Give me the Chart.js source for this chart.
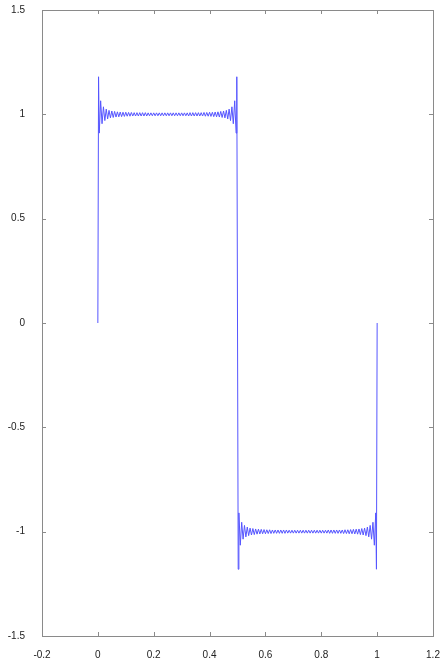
<!DOCTYPE html>
<html lang="en">
<head>
<meta charset="UTF-8">
<title>Square wave partial sum</title>
<style>
    html, body { margin: 0; padding: 0; background: #fff; }
    #wrap { width: 440px; height: 659px; }
</style>
</head>
<body>
<div id="wrap"><canvas id="chart" width="440" height="659"></canvas></div>
<script src="https://cdn.jsdelivr.net/npm/chart.js@4"></script>
<script>
// axis ticks
const xTicks = [-0.2, 0, 0.2, 0.4, 0.6, 0.8, 1, 1.2];
const xTickLabels = ['-0.2', '0', '0.2', '0.4', '0.6', '0.8', '1', '1.2'];
const yTicks = [-1.5, -1, -0.5, 0, 0.5, 1, 1.5];
const yTickLabels = ['-1.5', '-1', '-0.5', '0', '0.5', '1', '1.5'];

// upper plateau (0 .. 0.5)
const upperX = [0, 0.0025,
    0.005,0.01,0.015,0.02,0.025,0.03,0.035,0.04,0.045,0.05,
    0.055,0.06,0.065,0.07,0.075,0.08,0.085,0.09,0.095,0.1,
    0.105,0.11,0.115,0.12,0.125,0.13,0.135,0.14,0.145,0.15,
    0.155,0.16,0.165,0.17,0.175,0.18,0.185,0.19,0.195,0.2,
    0.205,0.21,0.215,0.22,0.225,0.23,0.235,0.24,0.245,0.25,
    0.255,0.26,0.265,0.27,0.275,0.28,0.285,0.29,0.295,0.3,
    0.305,0.31,0.315,0.32,0.325,0.33,0.335,0.34,0.345,0.35,
    0.355,0.36,0.365,0.37,0.375,0.38,0.385,0.39,0.395,0.4,
    0.405,0.41,0.415,0.42,0.425,0.43,0.435,0.44,0.445,0.45,
    0.455,0.46,0.465,0.47,0.475,0.48,0.485,0.49,0.495,
    0.4975, 0.5];
const upperY = [0, 1.18,
    0.910,1.065,0.955,1.036,0.970,1.025,0.978,1.019,0.983,1.016,
    0.985,1.014,0.987,1.012,0.988,1.011,0.989,1.010,0.990,1.010,
    0.991,1.009,0.991,1.009,0.992,1.008,0.992,1.008,0.992,1.008,
    0.992,1.008,0.992,1.008,0.992,1.007,0.993,1.007,0.993,1.007,
    0.993,1.007,0.993,1.007,0.993,1.007,0.993,1.007,0.993,1.007,
    0.993,1.007,0.993,1.007,0.993,1.007,0.993,1.007,0.993,1.007,
    0.993,1.007,0.993,1.007,0.992,1.008,0.992,1.008,0.992,1.008,
    0.992,1.008,0.992,1.008,0.992,1.009,0.991,1.009,0.991,1.010,
    0.990,1.010,0.989,1.011,0.988,1.012,0.987,1.014,0.985,1.016,
    0.983,1.019,0.978,1.025,0.970,1.036,0.955,1.065,0.910,
    1.18, 0];

// lower plateau (0.5 .. 1)
const lowerX = [0.5025,
    0.505,0.51,0.515,0.52,0.525,0.53,0.535,0.54,0.545,0.55,
    0.555,0.56,0.565,0.57,0.575,0.58,0.585,0.59,0.595,0.6,
    0.605,0.61,0.615,0.62,0.625,0.63,0.635,0.64,0.645,0.65,
    0.655,0.66,0.665,0.67,0.675,0.68,0.685,0.69,0.695,0.7,
    0.705,0.71,0.715,0.72,0.725,0.73,0.735,0.74,0.745,0.75,
    0.755,0.76,0.765,0.77,0.775,0.78,0.785,0.79,0.795,0.8,
    0.805,0.81,0.815,0.82,0.825,0.83,0.835,0.84,0.845,0.85,
    0.855,0.86,0.865,0.87,0.875,0.88,0.885,0.89,0.895,0.9,
    0.905,0.91,0.915,0.92,0.925,0.93,0.935,0.94,0.945,0.95,
    0.955,0.96,0.965,0.97,0.975,0.98,0.985,0.99,0.995,
    0.9975, 1];
const lowerY = [-1.18,
    -0.910,-1.065,-0.955,-1.036,-0.970,-1.025,-0.978,-1.019,-0.983,-1.016,
    -0.985,-1.014,-0.987,-1.012,-0.988,-1.011,-0.989,-1.010,-0.990,-1.010,
    -0.991,-1.009,-0.991,-1.009,-0.992,-1.008,-0.992,-1.008,-0.992,-1.008,
    -0.992,-1.008,-0.992,-1.008,-0.992,-1.007,-0.993,-1.007,-0.993,-1.007,
    -0.993,-1.007,-0.993,-1.007,-0.993,-1.007,-0.993,-1.007,-0.993,-1.007,
    -0.993,-1.007,-0.993,-1.007,-0.993,-1.007,-0.993,-1.007,-0.993,-1.007,
    -0.993,-1.007,-0.993,-1.007,-0.992,-1.008,-0.992,-1.008,-0.992,-1.008,
    -0.992,-1.008,-0.992,-1.008,-0.992,-1.009,-0.991,-1.009,-0.991,-1.010,
    -0.990,-1.010,-0.989,-1.011,-0.988,-1.012,-0.987,-1.014,-0.985,-1.016,
    -0.983,-1.019,-0.978,-1.025,-0.970,-1.036,-0.955,-1.065,-0.910,
    -1.18, 0];

const points = upperX.map((x, i) => ({ x: x, y: upperY[i] }))
    .concat(lowerX.map((x, i) => ({ x: x, y: lowerY[i] })));

// box round the plot + inward ticks on all four sides
const boxTicks = {
    id: 'boxTicks',
    afterDraw(chart) {
        const { ctx, chartArea: a, scales } = chart;
        const len = 4;
        ctx.save();
        ctx.strokeStyle = '#8a8a8a';
        ctx.lineWidth = 1;
        ctx.strokeRect(Math.round(a.left) + 0.5, Math.round(a.top) + 0.5,
            Math.round(a.right - a.left), Math.round(a.bottom - a.top));
        ctx.beginPath();
        xTicks.forEach(v => {
            const px = Math.round(scales.x.getPixelForValue(v)) + 0.5;
            ctx.moveTo(px, a.bottom); ctx.lineTo(px, a.bottom - len);
            ctx.moveTo(px, a.top); ctx.lineTo(px, a.top + len);
        });
        yTicks.forEach(v => {
            const py = Math.round(scales.y.getPixelForValue(v)) + 0.5;
            ctx.moveTo(a.left, py); ctx.lineTo(a.left + len, py);
            ctx.moveTo(a.right, py); ctx.lineTo(a.right - len, py);
        });
        ctx.stroke();
        ctx.restore();
    }
};

const tickFont = { family: "'Liberation Sans', Arial, sans-serif", size: 10 };

new Chart(document.getElementById('chart'), {
    type: 'line',
    data: {
        datasets: [{
            data: points,
            borderColor: 'rgb(85,85,255)',
            borderWidth: 1,
            pointRadius: 0,
            tension: 0,
            fill: false
        }]
    },
    options: {
        responsive: false,
        animation: false,
        layout: { padding: { top: 10, right: 7, left: 0, bottom: 0 } },
        plugins: { legend: { display: false }, tooltip: { enabled: false } },
        scales: {
            x: {
                type: 'linear',
                min: -0.2, max: 1.2,
                afterBuildTicks: s => { s.ticks = xTicks.map(v => ({ value: v })); },
                afterFit: s => { s.height = 23; s.paddingLeft = 0; s.paddingRight = 0; },
                grid: { display: false },
                border: { display: false },
                ticks: {
                    padding: 5,
                    color: '#222',
                    font: tickFont,
                    maxRotation: 0,
                    autoSkip: false,
                    callback: (v, i) => xTickLabels[i]
                }
            },
            y: {
                type: 'linear',
                min: -1.5, max: 1.5,
                afterBuildTicks: s => { s.ticks = yTicks.map(v => ({ value: v })); },
                afterFit: s => { s.width = 42; s.paddingTop = 0; s.paddingBottom = 0; },
                grid: { display: false },
                border: { display: false },
                ticks: {
                    padding: 9,
                    color: '#222',
                    font: tickFont,
                    autoSkip: false,
                    callback: (v, i) => yTickLabels[i]
                }
            }
        }
    },
    plugins: [boxTicks]
});
</script>
</body>
</html>
